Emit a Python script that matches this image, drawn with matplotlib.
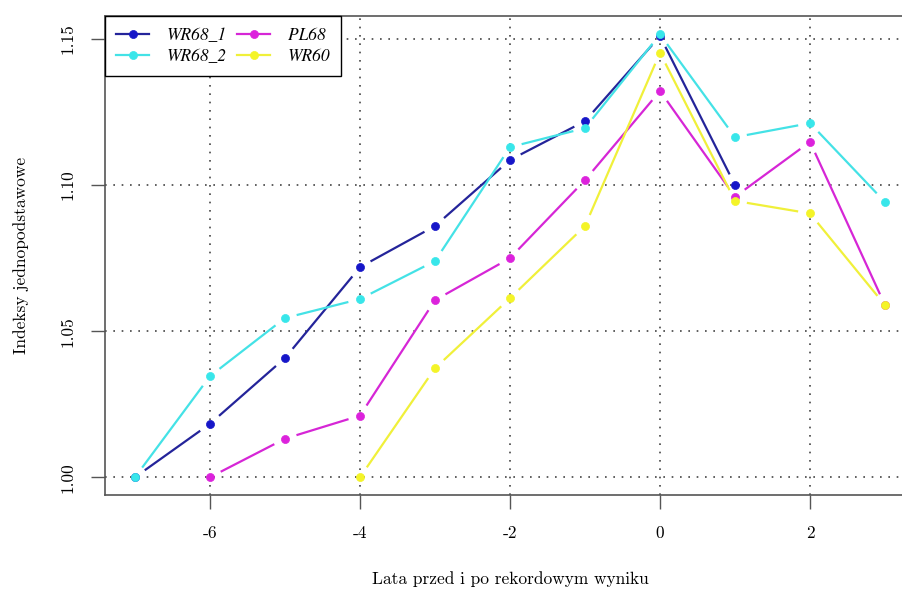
import numpy as np
import matplotlib
matplotlib.use('Agg')
import matplotlib.pyplot as plt
from matplotlib.lines import Line2D

plt.rcParams['font.family'] = ['cmr10', 'DejaVu Serif']
plt.rcParams['axes.unicode_minus'] = False
plt.rcParams['axes.formatter.use_mathtext'] = True

# lata wzgledem rekordu
x_wr68_1 = [-7, -6, -5, -4, -3, -2, -1, 0, 1]
y_wr68_1 = [1.000, 1.0183, 1.0408, 1.0719, 1.0860, 1.1086, 1.1219, 1.1510, 1.1000]

x_wr68_2 = [-7, -6, -5, -4, -3, -2, -1, 0, 1, 2, 3]
y_wr68_2 = [1.000, 1.0346, 1.0545, 1.0610, 1.0740, 1.1130, 1.1195, 1.1516, 1.1164, 1.1212, 1.0942]

x_pl68 = [-6, -5, -4, -3, -2, -1, 0, 1, 2, 3]
y_pl68 = [1.000, 1.0132, 1.0211, 1.0606, 1.0750, 1.1017, 1.1322, 1.0960, 1.1148, 1.0589]

x_wr60 = [-4, -3, -2, -1, 0, 1, 2, 3]
y_wr60 = [1.000, 1.0373, 1.0613, 1.0860, 1.1453, 1.0946, 1.0903, 1.0589]

names = ['WR68_1', 'WR68_2', 'PL68', 'WR60']
line_cols = ['#24249a', '#44e2e6', '#d626d6', '#f0f03a']
pt_cols = ['#1616c8', '#38e6ea', '#dc22dc', '#f4f428']

xticks = [-6, -4, -2, 0, 2]
yticks = [1.00, 1.05, 1.10, 1.15]

W, H = 902, 592
fig = plt.figure(figsize=(W / 100, H / 100), dpi=100)
ax = fig.add_axes([105 / W, 1 - 495 / H, 810 / W, 479 / H])
ax.set_xlim(-7.4, 3.4)
ax.set_ylim(0.99392, 1.15788)

for sp in ax.spines.values():
    sp.set_color('#555555')
    sp.set_linewidth(1.2)

ax.set_xticks(xticks)
ax.set_xticklabels([str(t) for t in xticks])
ax.set_yticks(yticks)
ax.set_yticklabels(['%.2f' % t for t in yticks], rotation=90, va='center')
ax.tick_params(direction='out', length=10, width=1.0, color='#555555',
               labelsize=12.5)
ax.tick_params(axis='x', pad=12)
ax.tick_params(axis='y', pad=11)
for t in xticks:
    ax.axvline(t, color='#444444', lw=1.2, ls=(0, (1, 4)), zorder=1)
for t in yticks:
    ax.axhline(t, color='#444444', lw=1.2, ls=(0, (1, 4)), zorder=1)

ax.set_xlabel('Lata przed i po rekordowym wyniku', fontsize=12.5, labelpad=22)
ax.set_ylabel('Indeksy jednopodstawowe', fontsize=12.5, labelpad=23)

# typ "b" jak w R: linie z przerwa przy punktach
gap = 12
inv = ax.transData.inverted()


def plot_b(xs, ys, lc, pc):
    pts = ax.transData.transform(np.column_stack([xs, ys]))
    for i in range(len(pts) - 1):
        p0, p1 = pts[i], pts[i + 1]
        d = p1 - p0
        L = np.hypot(d[0], d[1])
        if L <= 2 * gap:
            continue
        u = d / L
        a = inv.transform(p0 + u * gap)
        b = inv.transform(p1 - u * gap)
        ax.plot([a[0], b[0]], [a[1], b[1]], color=lc, lw=1.6, zorder=3,
                solid_capstyle='butt')
    ax.plot(xs, ys, ls='none', marker='o', ms=5.8, mew=0.5, color=pc, zorder=4)


series = [(x_wr68_1, y_wr68_1), (x_wr68_2, y_wr68_2), (x_pl68, y_pl68), (x_wr60, y_wr60)]
for (xs, ys), lc, pc in zip(series, line_cols, pt_cols):
    plot_b(xs, ys, lc, pc)

handles = [Line2D([], [], color=lc, lw=1.6, marker='o', ms=5.8, mew=0.5,
                  markerfacecolor=pc, markeredgecolor=pc)
           for lc, pc in zip(line_cols, pt_cols)]
leg = ax.legend(handles, names, loc='upper left', bbox_to_anchor=(0, 1),
                borderaxespad=0, ncol=2, fancybox=False, framealpha=1,
                edgecolor='black', handlelength=1.9, handletextpad=1.0,
                columnspacing=0.6, labelspacing=0.25, borderpad=0.65,
                prop={'family': 'STIXGeneral', 'style': 'italic', 'size': 12.5})
leg.get_frame().set_linewidth(1.0)
leg.set_zorder(5)

fig.savefig('out.png', dpi=100)
